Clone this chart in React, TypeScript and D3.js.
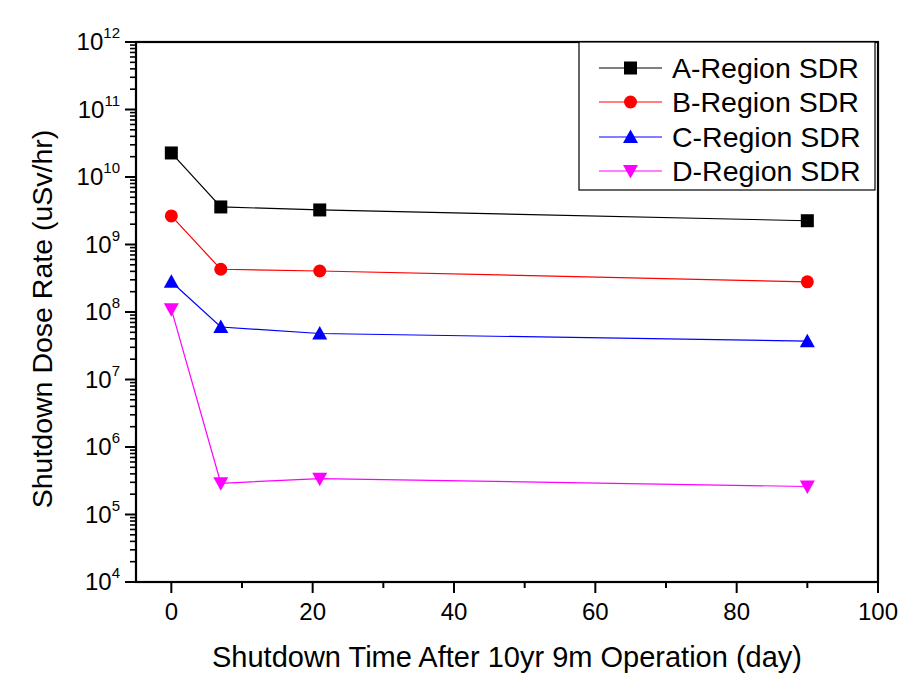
import React from "react";
import * as d3 from "d3";

const days = [0, 7, 21, 90];
const seriesNames = ["A-Region SDR", "B-Region SDR", "C-Region SDR", "D-Region SDR"];
const aValues = [2.27e10, 3.6e9, 3.25e9, 2.25e9];
const bValues = [2.65e9, 4.3e8, 4.05e8, 2.8e8];
const cValues = [2.8e8, 6.0e7, 4.8e7, 3.7e7];
const dValues = [1.1e8, 2.9e5, 3.4e5, 2.6e5];
const colors = ["#000000", "#ff0000", "#0000ff", "#ff00ff"];
const markers = ["square", "circle", "triangle", "triangleDown"];
const xTicks = [0, 20, 40, 60, 80, 100];
const xMinorTicks = [10, 30, 50, 70, 90];
const yExponents = [4, 5, 6, 7, 8, 9, 10, 11, 12];

const W = 915, H = 687;
const L = 136, R = 878, T = 42, B = 582;
const FONT = "Arial, 'Liberation Sans', sans-serif";

function Marker({ type, x, y, color }: { type: string; x: number; y: number; color: string }) {
  if (type === "square") return <rect x={x - 6.5} y={y - 6.5} width={13} height={13} fill={color} />;
  if (type === "circle") return <circle cx={x} cy={y} r={6.5} fill={color} />;
  if (type === "triangle")
    return <path d={`M${x},${y - 7.5}L${x + 7.5},${y + 6}L${x - 7.5},${y + 6}Z`} fill={color} />;
  return <path d={`M${x},${y + 7.5}L${x + 7.5},${y - 6}L${x - 7.5},${y - 6}Z`} fill={color} />;
}

export default function App() {
  const x = d3.scaleLinear().domain([-5, 100]).range([L, R]);
  const y = d3.scaleLog().domain([1e4, 1e12]).range([B, T]);
  const all = [aValues, bValues, cValues, dValues];
  const line = d3
    .line<[number, number]>()
    .x((d) => x(d[0]))
    .y((d) => y(d[1]));

  const minorY: number[] = [];
  for (let e = 4; e < 12; e++) for (let m = 2; m <= 9; m++) minorY.push(m * Math.pow(10, e));

  const legX1 = 599, legX2 = 662, legTextX = 672;
  const legRows = [68, 102, 137, 171];

  return (
    <svg
      width={W}
      height={H}
      style={{ position: "absolute", left: 0, top: 0, display: "block", background: "#fff" }}
      fontFamily={FONT}
    >
      <rect x={0} y={0} width={W} height={H} fill="#fff" />
      {/* series */}
      {all.map((vals, i) => (
        <g key={i}>
          <path
            d={line(days.map((d, j) => [d, vals[j]] as [number, number])) || ""}
            fill="none"
            stroke={colors[i]}
            strokeWidth={1.2}
          />
          {days.map((d, j) => (
            <Marker key={j} type={markers[i]} x={x(d)} y={y(vals[j])} color={colors[i]} />
          ))}
        </g>
      ))}
      {/* frame */}
      <rect x={L} y={T} width={R - L} height={B - T} fill="none" stroke="#000" strokeWidth={2.2} />
      {/* x ticks */}
      {xTicks.map((t) => (
        <g key={t}>
          <line x1={x(t)} x2={x(t)} y1={B} y2={B + 11} stroke="#000" strokeWidth={2} />
          <text x={x(t)} y={B + 38} textAnchor="middle" fontSize={24}>
            {t}
          </text>
        </g>
      ))}
      {xMinorTicks.map((t) => (
        <line key={t} x1={x(t)} x2={x(t)} y1={B} y2={B + 6} stroke="#000" strokeWidth={2} />
      ))}
      {/* y ticks */}
      {yExponents.map((e) => (
        <g key={e}>
          <line x1={L - 11} x2={L} y1={y(Math.pow(10, e))} y2={y(Math.pow(10, e))} stroke="#000" strokeWidth={2} />
          <text x={L - 16} y={y(Math.pow(10, e)) + 8} textAnchor="end" fontSize={24}>
            10
            <tspan fontSize={15} dy={-12}>
              {e}
            </tspan>
          </text>
        </g>
      ))}
      {minorY.map((v, i) => (
        <line key={i} x1={L - 6} x2={L} y1={y(v)} y2={y(v)} stroke="#000" strokeWidth={1.6} />
      ))}
      {/* axis titles */}
      <text x={(L + R) / 2} y={667} textAnchor="middle" fontSize={29}>
        Shutdown Time After 10yr 9m Operation (day)
      </text>
      <text
        transform={`translate(52,319) rotate(-90)`}
        textAnchor="middle"
        fontSize={28.5}
      >
        Shutdown Dose Rate (uSv/hr)
      </text>
      {/* legend */}
      <rect x={579} y={T} width={296} height={148} fill="#fff" stroke="#000" strokeWidth={1.2} />
      {seriesNames.map((name, i) => (
        <g key={name}>
          <line x1={legX1} x2={legX2} y1={legRows[i]} y2={legRows[i]} stroke={colors[i]} strokeWidth={1.2} />
          <Marker type={markers[i]} x={(legX1 + legX2) / 2} y={legRows[i]} color={colors[i]} />
          <text x={legTextX} y={legRows[i] + 10} fontSize={28.5}>
            {name}
          </text>
        </g>
      ))}
    </svg>
  );
}
